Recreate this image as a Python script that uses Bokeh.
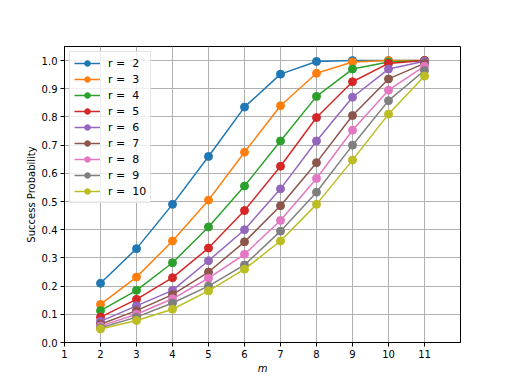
from bokeh.plotting import figure
from bokeh.models import Range1d, FixedTicker, NumeralTickFormatter, Legend, LegendItem
from bokeh.embed import file_html
from bokeh.resources import INLINE

m_values = [2, 3, 4, 5, 6, 7, 8, 9, 10, 11]
r_values = [2, 3, 4, 5, 6, 7, 8, 9, 10]

p_r2 = [0.210, 0.333, 0.490, 0.660, 0.835, 0.952, 0.997, 1.000, 1.000, 1.000]
p_r3 = [0.135, 0.232, 0.360, 0.505, 0.675, 0.840, 0.955, 0.995, 1.000, 1.000]
p_r4 = [0.113, 0.185, 0.283, 0.410, 0.555, 0.715, 0.873, 0.970, 0.995, 1.000]
p_r5 = [0.090, 0.153, 0.230, 0.335, 0.468, 0.625, 0.798, 0.925, 0.990, 1.000]
p_r6 = [0.075, 0.130, 0.185, 0.290, 0.400, 0.545, 0.715, 0.870, 0.970, 0.998]
p_r7 = [0.065, 0.113, 0.170, 0.250, 0.357, 0.485, 0.638, 0.805, 0.935, 0.990]
p_r8 = [0.058, 0.100, 0.155, 0.228, 0.313, 0.433, 0.582, 0.753, 0.895, 0.980]
p_r9 = [0.052, 0.090, 0.140, 0.200, 0.275, 0.395, 0.533, 0.700, 0.858, 0.965]
p_r10 = [0.048, 0.078, 0.118, 0.183, 0.260, 0.360, 0.490, 0.647, 0.810, 0.945]

series = [p_r2, p_r3, p_r4, p_r5, p_r6, p_r7, p_r8, p_r9, p_r10]
colors = ["#1f77b4", "#ff7f0e", "#2ca02c", "#d62728", "#9467bd",
          "#8c564b", "#e377c2", "#7f7f7f", "#bcbd22"]

x_ticks = [1, 2, 3, 4, 5, 6, 7, 8, 9, 10, 11]
y_ticks = [0.0, 0.1, 0.2, 0.3, 0.4, 0.5, 0.6, 0.7, 0.8, 0.9, 1.0]

p = figure(width=504, height=376, output_backend="svg", toolbar_location=None,
           x_range=Range1d(1, 12), y_range=Range1d(0, 1.05))
p.min_border_left = 64
p.min_border_right = 44
p.min_border_top = 46
p.min_border_bottom = 34
p.outline_line_color = "black"
p.outline_line_width = 1

p.xaxis.ticker = FixedTicker(ticks=x_ticks)
p.yaxis.ticker = FixedTicker(ticks=y_ticks)
p.yaxis.formatter = NumeralTickFormatter(format="0.0")
p.xaxis.axis_label = "m"
p.xaxis.axis_label_text_font_style = "italic"
p.yaxis.axis_label = "Success Probability"
p.yaxis.axis_label_text_font_style = "normal"
for ax in (p.xaxis[0], p.yaxis[0]):
    ax.axis_label_text_font = "DejaVu Sans"
    ax.axis_label_text_font_size = "10px"
    ax.axis_label_text_color = "black"
    ax.major_label_text_font = "DejaVu Sans"
    ax.major_label_text_font_size = "10px"
    ax.major_label_text_color = "black"
    ax.axis_line_color = "black"
    ax.major_tick_line_color = "black"
    ax.minor_tick_line_color = None
    ax.major_tick_out = 4
    ax.major_tick_in = 0
    ax.axis_label_standoff = 2
    ax.major_label_standoff = 3
p.xgrid.grid_line_color = "#b0b0b0"
p.ygrid.grid_line_color = "#b0b0b0"
p.xgrid.grid_line_width = 1
p.ygrid.grid_line_width = 1

items = []
for r, ys, c in zip(r_values, series, colors):
    ln = p.line(m_values, ys, line_color=c, line_width=1.5)
    sc = p.scatter(m_values, ys, size=8, fill_color=c, line_color=c)
    items.append(LegendItem(label="r =  %d" % r, renderers=[ln, sc]))

legend = Legend(items=items, location="top_left")
legend.label_text_font = "DejaVu Sans"
legend.label_text_font_size = "11px"
legend.label_text_color = "black"
legend.label_height = 14
legend.glyph_height = 14
legend.glyph_width = 26
legend.label_standoff = 8
legend.spacing = 2
legend.padding = 4
legend.margin = 5
legend.border_line_color = "#cccccc"
legend.background_fill_alpha = 0.8
p.add_layout(legend)

open("out.html", "w").write(file_html(p, INLINE))
